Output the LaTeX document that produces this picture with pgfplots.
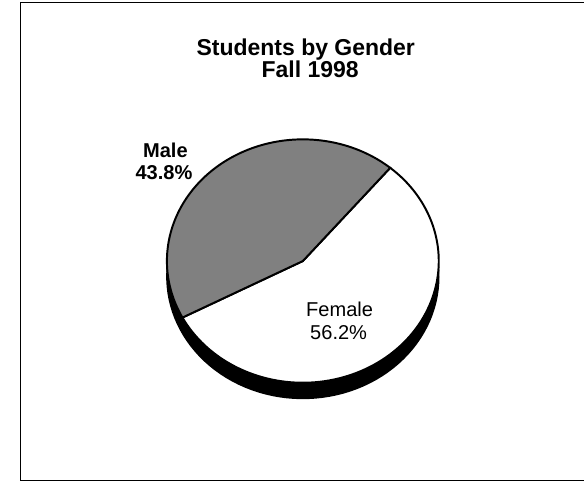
\documentclass[border=0pt]{standalone}
\usepackage{pgfplots}
\usepackage{pgfplotstable}
\pgfplotsset{compat=1.18}
\usepackage{fontspec}
\setmainfont{Liberation Sans}

\pgfplotstableread{
label value
Male 43.8
Female 56.2
}\piedata

\begin{document}
\pgfplotstablegetelem{0}{value}\of\piedata \let\malev\pgfplotsretval
\pgfplotstablegetelem{1}{value}\of\piedata \let\femalev\pgfplotsretval
\pgfmathsetmacro\aStart{50}
\pgfmathsetmacro\aMid{\aStart+3.6*\malev}
\pgfmathsetmacro\aEnd{\aMid+3.6*\femalev}
\def\cx{297.5}\def\cy{227}\def\rx{138.5}\def\ry{124}\def\dep{16}
\begin{tikzpicture}
\path[use as bounding box] (0,0) rectangle (584bp,493bp);
\begin{axis}[
  at={(0,0)}, anchor=south west,
  scale only axis, width=584bp, height=493bp,
  xmin=0, xmax=584, ymin=0, ymax=493,
  hide axis, clip=false,
]
% frame
\draw[black, line width=1.2bp] (axis cs:584,490.3) -- (axis cs:9.5,490.3) -- (axis cs:9.5,3) -- (axis cs:584,3);
% side (depth)
\addplot[fill=black, draw=black, line width=1.5bp, domain=0:360, samples=120, variable=\t]
  ({\cx+\rx*cos(\t)}, {\cy-\dep+\ry*sin(\t)}) -- cycle;
% Female slice
\addplot[fill=white, draw=black, line width=2bp, domain=\aMid:\aEnd, samples=100, variable=\t]
  ({\cx+\rx*cos(\t)}, {\cy+\ry*sin(\t)}) -- (axis cs:\cx,\cy) -- cycle;
% Male slice
\addplot[fill=black!50, draw=black, line width=2bp, domain=\aStart:\aMid, samples=100, variable=\t]
  ({\cx+\rx*cos(\t)}, {\cy+\ry*sin(\t)}) -- (axis cs:\cx,\cy) -- cycle;
% titles
\node[anchor=base, font=\fontsize{23.5}{27}\selectfont\bfseries] at (axis cs:300.5,436) {Students by Gender};
\node[anchor=base, font=\fontsize{23.5}{27}\selectfont\bfseries] at (axis cs:305,414) {Fall 1998};
% labels
\node[anchor=base, font=\fontsize{20.5}{24}\selectfont\bfseries] at (axis cs:157.5,333) {Male};
\node[anchor=base, font=\fontsize{20.5}{24}\selectfont\bfseries] at (axis cs:156,310) {43.8\%};
\node[anchor=base, font=\fontsize{20.5}{24}\selectfont] at (axis cs:335,171) {Female};
\node[anchor=base, font=\fontsize{20.5}{24}\selectfont] at (axis cs:334,147) {56.2\%};
\end{axis}
\end{tikzpicture}
\end{document}
